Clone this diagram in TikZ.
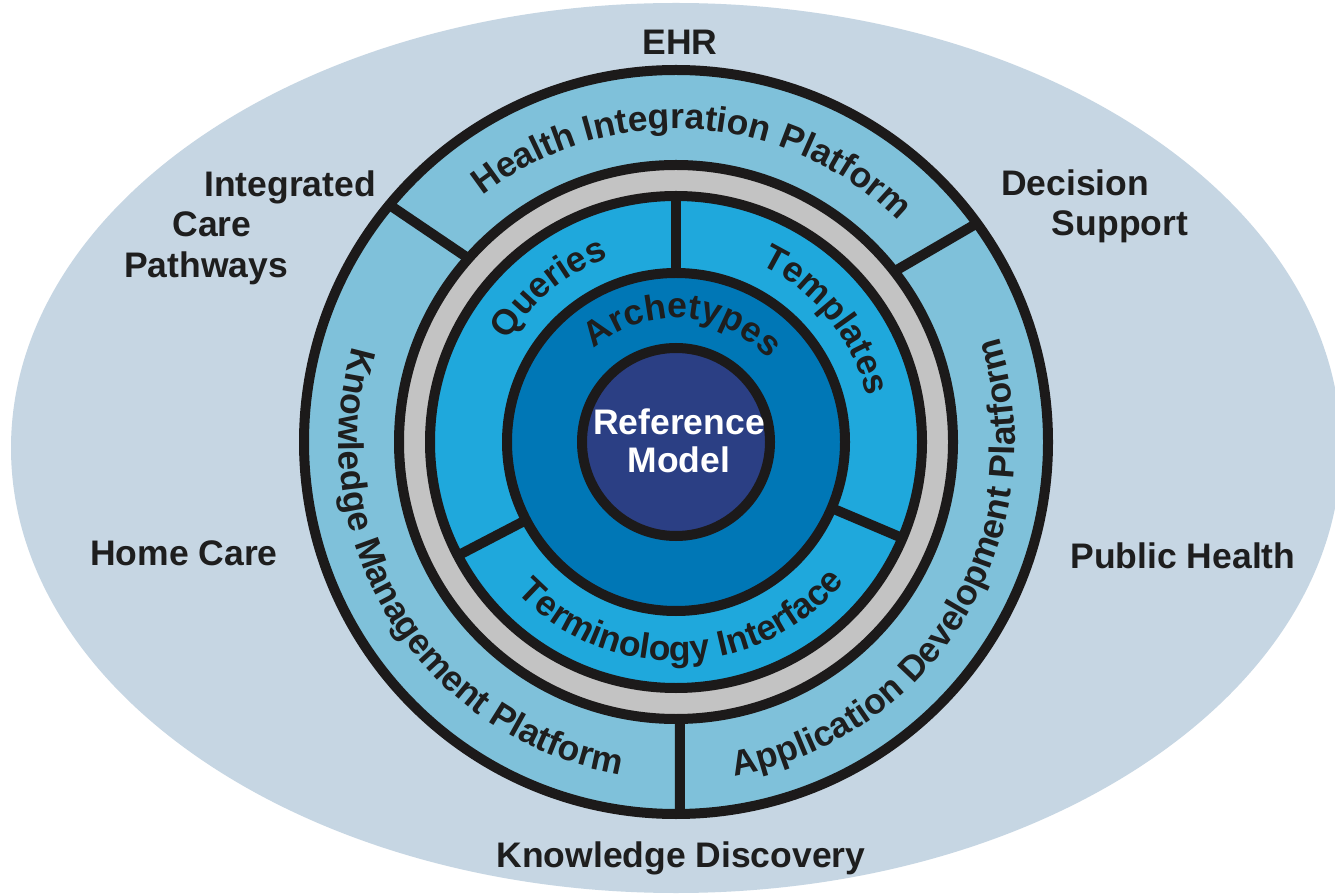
\documentclass[tikz,border=0pt]{standalone}
\usepackage{fontspec}
\setmainfont{Liberation Sans}
\usetikzlibrary{decorations.text}
\definecolor{bgc}{HTML}{C6D6E3}
\definecolor{platc}{HTML}{7FC1DA}
\definecolor{grayc}{HTML}{C3C3C3}
\definecolor{brightc}{HTML}{1FA8DC}
\definecolor{midc}{HTML}{0077B6}
\definecolor{navyc}{HTML}{2B3F84}
\definecolor{linec}{HTML}{1C1A1A}
\definecolor{txtc}{HTML}{1E1E1E}
\newcommand{\lblfont}{\fontsize{35.5}{40}\selectfont\bfseries}
\begin{document}
\begin{tikzpicture}[x=1pt,y=1pt,
  ringline/.style={line width=10pt, draw=linec},
  divline/.style={line width=10pt, draw=linec},
  lbl/.style={font=\lblfont, text=txtc, inner sep=0pt, anchor=base},
  arclabel/.style={decorate, decoration={text along path, text={|\lblfont\color{txtc}|#1}, text align=center}}]
\useasboundingbox (0,0) rectangle (1335,895);
\fill[white] (0,0) rectangle (1335,895);
\fill[bgc] (676,447) ellipse [x radius=665pt, y radius=445pt];
\begin{scope}[shift={(676,453)}]
  \coordinate (C) at (0,0);
  % ring fills
  \fill[platc] (C) circle[radius=372pt];
  \fill[grayc] (C) circle[radius=277pt];
  \fill[brightc] (C) circle[radius=246pt];
  \fill[midc] (C) circle[radius=169pt];
  \fill[navyc] (C) circle[radius=94pt];
  % dividers outer ring
  \coordinate (d1a) at (138.5:277pt); \coordinate (d1b) at (140.4:372pt);
  \coordinate (d2a) at (38:277pt);    \coordinate (d2b) at (36:372pt);
  \coordinate (d3a) at (270.8:277pt); \coordinate (d3b) at (270.6:372pt);
  \draw[divline] (d1a) -- (d1b);
  \draw[divline] (d2a) -- (d2b);
  \draw[divline] (d3a) -- (d3b);
  % dividers inner ring
  \coordinate (e1a) at (90:169pt);    \coordinate (e1b) at (90:246pt);
  \coordinate (e2a) at (207.5:169pt); \coordinate (e2b) at (207.5:246pt);
  \coordinate (e3a) at (-23:169pt);   \coordinate (e3b) at (-23:246pt);
  \draw[divline] (e1a) -- (e1b);
  \draw[divline] (e2a) -- (e2b);
  \draw[divline] (e3a) -- (e3b);
  % ring outlines
  \draw[ringline] (C) circle[radius=372pt];
  \draw[ringline] (C) circle[radius=277pt];
  \draw[ringline] (C) circle[radius=246pt];
  \draw[ringline] (C) circle[radius=169pt];
  \draw[ringline] (C) circle[radius=94pt];
  % curved labels
  \path[arclabel={Health Integration Platform}] (166.5:313pt) arc[start angle=166.5, end angle=6.5, radius=313pt];
  \path[arclabel={Knowledge Management Platform}] (132:337pt) arc[start angle=132, end angle=292, radius=337pt];
  \path[arclabel={Application Development Platform}] (-111:339pt) arc[start angle=-111, end angle=49, radius=339pt];
  \path[arclabel={Queries}] (179.5:196pt) arc[start angle=179.5, end angle=79.5, radius=196pt];
  \path[arclabel={Templates}] (89:196pt) arc[start angle=89, end angle=-11, radius=196pt];
  \path[arclabel={Terminology Interface}] (192:219pt) arc[start angle=192, end angle=352, radius=219pt];
  \path[arclabel={Archetypes}] (170:124pt) arc[start angle=170, end angle=3.2, radius=124pt];
\end{scope}
% reference model text
\node[lbl, text=white] (rm1) at (679,460) {Reference};
\node[lbl, text=white] (rm2) at (679,422) {Model};
% outer labels
\node[lbl] (ehr) at (680,840) {EHR};
\node[lbl] (icp1) at (290,698) {Integrated};
\node[lbl] (icp2) at (212,658) {Care};
\node[lbl] (icp3) at (206,617) {Pathways};
\node[lbl] (ds1) at (1075,699) {Decision};
\node[lbl] (ds2) at (1120,659) {Support};
\node[lbl] (hc) at (184,330) {Home Care};
\node[lbl] (ph) at (1183,327) {Public Health};
\node[lbl] (kd) at (681,28) {Knowledge Discovery};
\end{tikzpicture}
\end{document}
